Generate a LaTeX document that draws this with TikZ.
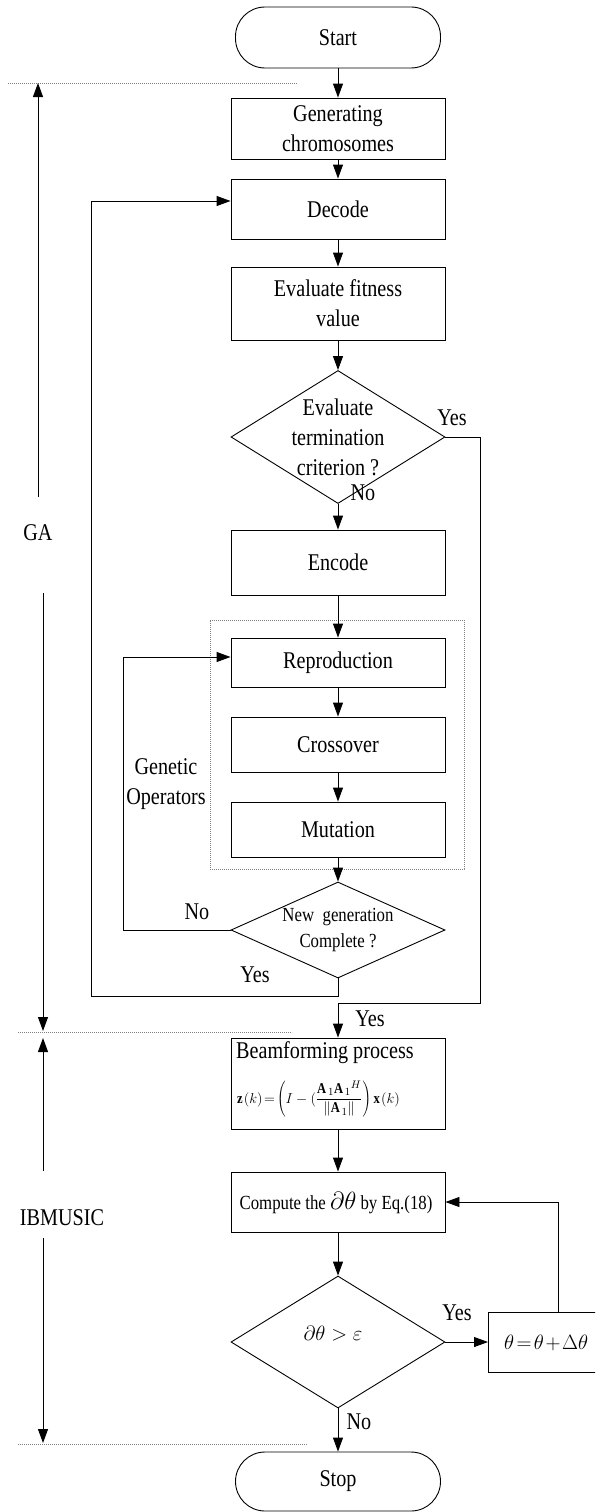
\documentclass[tikz,border=0pt]{standalone}
\usepackage{fontspec}
\setmainfont{Liberation Serif}[FakeStretch=0.84]
\usetikzlibrary{arrows.meta,shapes.geometric}
\newcommand\fsmain{\fontsize{24}{30}\selectfont}
\newcommand\fssmall{\fontsize{20}{26}\selectfont}
\begin{document}
\begin{tikzpicture}[x=1pt,y=-1pt,
  ln/.style={line width=0.9pt},
  arr/.style={line width=0.9pt,-{Triangle[length=14pt,width=10pt]}},
  box/.style={draw,line width=0.9pt,minimum width=214pt,inner sep=0pt,align=center,font=\fsmain},
  term/.style={draw,line width=0.9pt,rounded corners=29.5pt,minimum width=205pt,inner sep=0pt,font=\fsmain},
  dia/.style={draw,diamond,line width=0.9pt,inner sep=0pt,minimum width=214pt},
  txt/.style={inner sep=0pt,align=center,font=\fsmain},
  dotline/.style={line width=0.7pt,gray,dash pattern=on 1.2pt off 0.8pt}]
\useasboundingbox (0,0) rectangle (595,1512);
\clip (0,0) rectangle (595,1512);

% main column
\node[term,minimum height=61pt] (start) at (338,37.5) {Start};
\node[box,minimum height=61pt] (gen) at (338,128.5) {Generating\\chromosomes};
\node[box,minimum height=60pt] (dec) at (338,209) {Decode};
\node[box,minimum height=73pt] (eval) at (338,303.5) {Evaluate fitness\\value};
\node[dia,minimum height=133pt] (d1) at (338,437) {};
\node[txt] (d1t) at (338,437) {Evaluate\\termination\\criterion ?};
\node[box,minimum height=65pt] (enc) at (338,562.5) {Encode};
\node[draw,dotline,minimum width=254pt,minimum height=249pt,inner sep=0pt] (grp) at (337,744.5) {};
\node[box,minimum height=49pt] (rep) at (338,662.5) {Reproduction};
\node[box,minimum height=55pt] (cro) at (338,744.5) {Crossover};
\node[box,minimum height=55pt] (mut) at (338,829.5) {Mutation};
\node[dia,minimum height=96pt] (d2) at (338,930) {};
\node[txt,font=\fssmall] (d2t) at (338,930) {New\ \ generation\\Complete ?};
\node[box,minimum height=91pt] (beam) at (338,1083.5) {};
\node[inner sep=0pt,anchor=west,font=\fsmain] (beamt) at (236,1053) {Beamforming process};
\node[inner sep=0pt,anchor=west,font=\fontsize{15}{17}\selectfont] (beamf) at (237,1099)
  {$\displaystyle \mathbf{z}(k)\!=\!\left(I-(\frac{\mathbf{A}_1\mathbf{A}_1{}^{H}}{\left\|\mathbf{A}_1\right\|}\right)\mathbf{x}(k)$};
\node[box,minimum height=60pt] (comp) at (338,1202) {};
\node[inner sep=0pt,font=\fssmall] (compt) at (336,1203) {Compute the {\fontsize{25}{26}\selectfont$\partial\theta$} by Eq.(18)};
\node[dia,minimum height=132pt] (d3) at (338,1342) {};
\node[inner sep=0pt,font=\fontsize{21}{24}\selectfont] (d3t) at (333,1334) {$\partial\theta>\varepsilon$};
\node[draw,line width=0.9pt,minimum width=220pt,minimum height=60pt,inner sep=0pt,anchor=west] (th) at (488,1342) {};
\node[inner sep=0pt,anchor=west,font=\fontsize{20}{24}\selectfont] (tht) at (504,1343)
  {\thickmuskip=2mu\medmuskip=1.5mu$\theta=\theta+\Delta\theta$};
\node[term,minimum height=59pt] (stop) at (338,1481.5) {Stop};

% main arrows
\draw[arr] (start) -- (gen);
\draw[arr] (gen) -- (dec);
\draw[arr] (dec) -- (eval);
\draw[arr] (eval) -- (d1.north);
\draw[arr] (d1.south) -- (enc);
\draw[arr] (enc) -- (rep);
\draw[arr] (rep) -- (cro);
\draw[arr] (cro) -- (mut);
\draw[arr] (mut) -- (d2.north);
\draw[arr] (d2.west) -- (123,930) -- (123,657) -- (rep.west |- 0,657);
\draw[arr] (d2.south) -- (338,996) -- (91,996) -- (91,201) -- (dec.west |- 0,201);
\draw[arr] (d1.east) -- (480,437) -- (480,1003) -- (338,1003) -- (beam.north);
\draw[arr] (beam) -- (comp);
\draw[arr] (comp) -- (d3.north);
\draw[arr] (d3.east) -- (th.west);
\draw[arr] (th.north -| 558,0) -- (558,1202) -- (comp.east);
\draw[arr] (d3.south) -- (stop);

% labels
\node[txt] (l1) at (363,493) {No};
\node[txt] (l2) at (452,418) {Yes};
\node[txt] (l3) at (197,912) {No};
\node[txt] (l4) at (255,975) {Yes};
\node[txt] (l5) at (370,1019) {Yes};
\node[txt] (l6) at (457,1313) {Yes};
\node[txt] (l7) at (359,1422) {No};
\node[txt] (gop) at (166,784) {Genetic\\Operators};

% side annotations
\draw[dotline] (8,83) -- (297,83);
\draw[dotline] (18,1032) -- (292,1032);
\draw[dotline] (18,1444) -- (307,1444);
\node[txt] (ga) at (38,533) {GA};
\node[txt] (ib) at (62,1218) {IBMUSIC};
\coordinate (gatop) at (38,83);
\coordinate (gabot) at (43,1031);
\coordinate (ibtop) at (43,1038);
\coordinate (ibbot) at (43,1443);
\draw[arr] (38,497) -- (gatop);
\draw[arr] (43,593) -- (gabot);
\draw[arr] (43,1171) -- (ibtop);
\draw[arr] (43,1238) -- (ibbot);
\end{tikzpicture}
\end{document}
